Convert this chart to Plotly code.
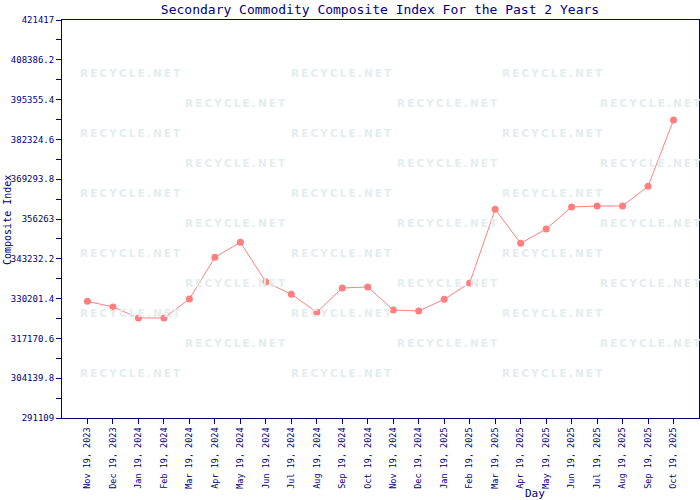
import plotly.graph_objects as go

dates = ["Nov 19, 2023", "Dec 19, 2023", "Jan 19, 2024", "Feb 19, 2024", "Mar 19, 2024",
         "Apr 19, 2024", "May 19, 2024", "Jun 19, 2024", "Jul 19, 2024", "Aug 19, 2024",
         "Sep 19, 2024", "Oct 19, 2024", "Nov 19, 2024", "Dec 19, 2024", "Jan 19, 2025",
         "Feb 19, 2025", "Mar 19, 2025", "Apr 19, 2025", "May 19, 2025", "Jun 19, 2025",
         "Jul 19, 2025", "Aug 19, 2025", "Sep 19, 2025", "Oct 19, 2025"]
index_values = [329319, 327453, 323852, 323852, 330072,
                343725, 348636, 335638, 331611, 325718,
                333674, 334001, 326471, 326144, 329974,
                335311, 359440, 348309, 352990, 360193,
                360521, 360521, 366970, 388677]
y_tick_vals = [291109, 304139.8, 317170.6, 330201.4, 343232.2, 356263,
               369293.8, 382324.6, 395355.4, 408386.2, 421417]
y_tick_text = ["291109", "304139.8", "317170.6", "330201.4", "343232.2", "356263",
               "369293.8", "382324.6", "395355.4", "408386.2", "421417"]
y_minor_vals = [(a + b) / 2 for a, b in zip(y_tick_vals[:-1], y_tick_vals[1:])]

NAVY = "#000080"
MONO = "DejaVu Sans Mono"

fig = go.Figure()
fig.add_trace(go.Scatter(
    x=list(range(len(dates))), y=index_values, mode="lines+markers",
    line=dict(color="#ff8080", width=1),
    marker=dict(color="#ff7f7f", size=7, symbol="circle"),
    showlegend=False,
))

# watermarks
annotations = []
rowA_x = [130, 341, 552]
rowB_x = [235, 447, 650]
W, H = 700, 500
L, R, T, B = 62, 699, 20, 418
wm_text = "\u2009".join("RECYCLE.NET")
for i, yp in enumerate(range(73, 380, 30)):
    xs = rowA_x if i % 2 == 0 else rowB_x
    for xp in xs:
        annotations.append(dict(
            x=(xp - L) / (R - L), y=(B - yp) / (B - T), xref="paper", yref="paper",
            text=wm_text, showarrow=False,
            font=dict(family="DejaVu Sans", size=10.5, color="#e4eded", weight="bold"),
            xanchor="center", yanchor="middle"))

annotations.append(dict(x=(535 - L) / (R - L), y=-(493 - B) / (B - T), xref="paper", yref="paper",
                        text="Day", showarrow=False, font=dict(family=MONO, size=11, color=NAVY),
                        xanchor="center", yanchor="middle"))
annotations.append(dict(x=-(L - 8) / (R - L), y=(B - 220) / (B - T), xref="paper", yref="paper",
                        text="Composite Index", showarrow=False, textangle=-90,
                        font=dict(family=MONO, size=10, color=NAVY),
                        xanchor="center", yanchor="middle"))

fig.update_layout(
    width=W, height=H,
    margin=dict(l=L, r=W - R, t=T, b=H - B, autoexpand=False),
    paper_bgcolor="white", plot_bgcolor="white",
    title=dict(text="Secondary Commodity Composite Index For the Past 2 Years",
               x=(380) / W, xanchor="center", y=1 - 9 / H, yanchor="middle",
               font=dict(family=MONO, size=13, color=NAVY)),
    xaxis=dict(range=[-1, len(dates)], tickmode="array",
               tickvals=list(range(len(dates))), ticktext=dates,
               tickangle=-90, ticks="outside", ticklen=5, tickcolor=NAVY,
               tickfont=dict(family=MONO, size=8.5, color=NAVY),
               showline=True, linecolor=NAVY, linewidth=1, mirror=True,
               showgrid=False, zeroline=False, automargin=False),
    yaxis=dict(range=[291109, 421417], tickmode="array",
               tickvals=y_tick_vals, ticktext=y_tick_text,
               ticks="outside", ticklen=5, tickcolor=NAVY,
               tickfont=dict(family=MONO, size=9, color=NAVY),
               minor=dict(tickmode="array", tickvals=y_minor_vals, ticks="outside",
                          ticklen=5, tickcolor=NAVY),
               showline=True, linecolor=NAVY, linewidth=1, mirror=True,
               showgrid=False, zeroline=False, automargin=False),
    annotations=annotations,
)

fig.write_html("out.html", config={"displayModeBar": False},
               post_script="document.body.style.margin='0';")
